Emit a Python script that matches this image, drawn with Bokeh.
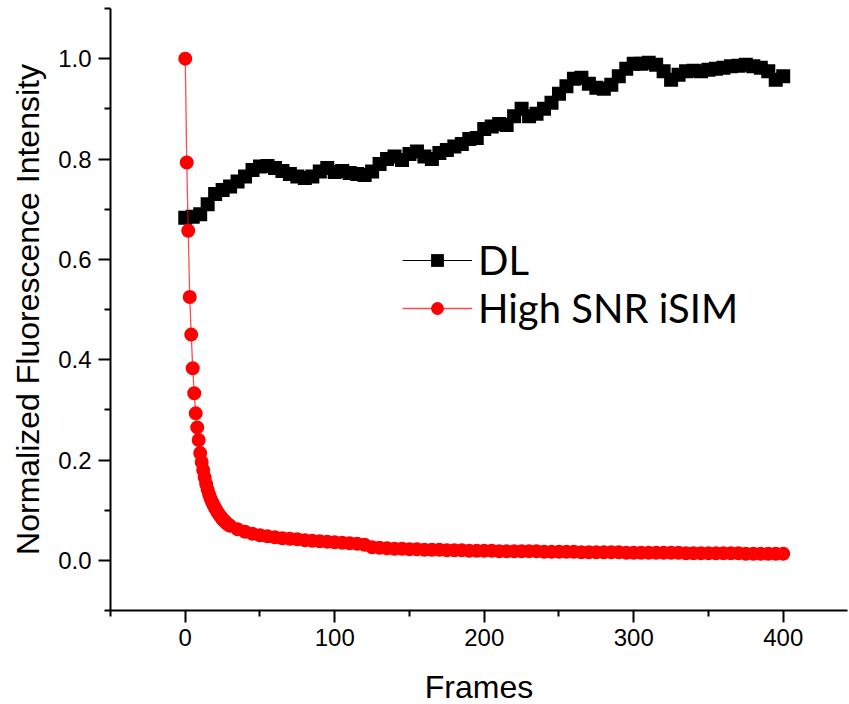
from bokeh.plotting import figure
from bokeh.models import Range1d, FixedTicker, Legend, LegendItem, CustomJSTickFormatter
from bokeh.embed import file_html
from bokeh.resources import INLINE

# ---- data ----
dl_frames = list(range(0, 401, 5))
dl_values = [0.683, 0.685, 0.690, 0.710, 0.730, 0.738, 0.745, 0.755, 0.765, 0.778,
             0.785, 0.786, 0.782, 0.776, 0.770, 0.765, 0.762, 0.765, 0.775, 0.782,
             0.774, 0.776, 0.772, 0.770, 0.768, 0.775, 0.790, 0.800, 0.805, 0.798,
             0.810, 0.815, 0.805, 0.800, 0.812, 0.818, 0.825, 0.830, 0.840, 0.842,
             0.860, 0.865, 0.870, 0.868, 0.885, 0.900, 0.885, 0.890, 0.900, 0.912,
             0.930, 0.945, 0.960, 0.962, 0.950, 0.942, 0.940, 0.948, 0.965, 0.980,
             0.990, 0.990, 0.992, 0.988, 0.975, 0.958, 0.968, 0.975, 0.976, 0.975,
             0.978, 0.980, 0.982, 0.985, 0.986, 0.988, 0.985, 0.982, 0.975, 0.958,
             0.965]

snr_frames = list(range(0, 31)) + list(range(35, 401, 5))
snr_values = [1.000, 0.793, 0.657, 0.525, 0.450, 0.383, 0.333, 0.293, 0.265, 0.240,
              0.214, 0.196, 0.180, 0.165, 0.152, 0.141, 0.131, 0.123, 0.116, 0.110,
              0.104, 0.099, 0.094, 0.090, 0.086, 0.082, 0.079, 0.076, 0.073, 0.071,
              0.069,
              0.062, 0.057, 0.053, 0.050, 0.048, 0.046, 0.044, 0.043, 0.042, 0.040,
              0.039, 0.038, 0.037, 0.036, 0.035, 0.034, 0.033, 0.031, 0.026, 0.025,
              0.024, 0.023, 0.023, 0.022, 0.022, 0.021, 0.021, 0.021, 0.020, 0.020,
              0.020, 0.019, 0.019, 0.019, 0.019, 0.018, 0.018, 0.018, 0.018, 0.018,
              0.018, 0.017, 0.017, 0.017, 0.017, 0.017, 0.016, 0.016, 0.016, 0.016,
              0.016, 0.016, 0.015, 0.015, 0.015, 0.015, 0.015, 0.015, 0.015, 0.015,
              0.014, 0.014, 0.014, 0.014, 0.014, 0.014, 0.014, 0.014, 0.013, 0.013,
              0.013, 0.013, 0.013, 0.013]

x_major = [0, 100, 200, 300, 400]
x_minor = [-50, 50, 150, 250, 350, 450]
y_major = [0.0, 0.2, 0.4, 0.6, 0.8, 1.0]
y_minor = [-0.1, 0.1, 0.3, 0.5, 0.7, 0.9, 1.1]

p = figure(frame_width=737, frame_height=602,
           min_border_left=110, min_border_right=1, min_border_top=8, min_border_bottom=88,
           x_range=Range1d(-50, 443), y_range=Range1d(-0.1, 1.1),
           output_backend="svg", toolbar_location=None)
p.outline_line_color = None
p.xgrid.grid_line_color = None
p.ygrid.grid_line_color = None
p.background_fill_color = "white"
p.border_fill_color = "white"

dl_line = p.line(dl_frames, dl_values, line_color="black", line_width=1)
dl_pts = p.scatter(dl_frames, dl_values, marker="square", size=14,
                   fill_color="black", line_color="black", line_width=0)
snr_line = p.line(snr_frames, snr_values, line_color="#ff0000", line_width=1.3, line_alpha=0.7)
snr_pts = p.scatter(snr_frames, snr_values, marker="circle", size=14,
                    fill_color="#ff0000", line_color="#ff0000", line_width=0)

for ax in (p.xaxis[0], p.yaxis[0]):
    ax.axis_line_width = 2
    ax.axis_line_color = "black"
    ax.major_tick_line_width = 2
    ax.minor_tick_line_width = 2
    ax.major_tick_out = 12
    ax.major_tick_in = 0
    ax.minor_tick_out = 6
    ax.minor_tick_in = 0
    ax.major_label_text_font = "Liberation Sans"
    ax.major_label_text_font_size = "24px"
    ax.major_label_text_color = "black"
    ax.axis_label_text_font = "Liberation Sans"
    ax.axis_label_text_font_size = "32px"
    ax.axis_label_text_font_style = "normal"
    ax.axis_label_text_color = "black"

p.xaxis[0].ticker = FixedTicker(ticks=x_major, minor_ticks=x_minor)
p.yaxis[0].ticker = FixedTicker(ticks=y_major, minor_ticks=y_minor)
p.yaxis[0].formatter = CustomJSTickFormatter(code="return tick.toFixed(1);")
p.xaxis[0].major_label_standoff = 6
p.yaxis[0].major_label_standoff = 7
p.xaxis[0].axis_label = "Frames"
p.yaxis[0].axis_label = "Normalized Fluorescence Intensity"
p.xaxis[0].axis_label_standoff = 20
p.yaxis[0].axis_label_standoff = 9

legend = Legend(items=[LegendItem(label="DL", renderers=[dl_line, dl_pts]),
                       LegendItem(label="High SNR iSIM", renderers=[snr_line, snr_pts])],
                location=(292, 278), orientation="vertical",
                glyph_width=70, glyph_height=32, label_height=32,
                label_standoff=6, padding=0, margin=0, spacing=0,
                border_line_color=None, background_fill_alpha=0,
                label_text_font="Lato", label_text_font_size="40px",
                label_text_color="black")
p.add_layout(legend, "center")

open("out.html", "w").write(file_html(p, INLINE))
